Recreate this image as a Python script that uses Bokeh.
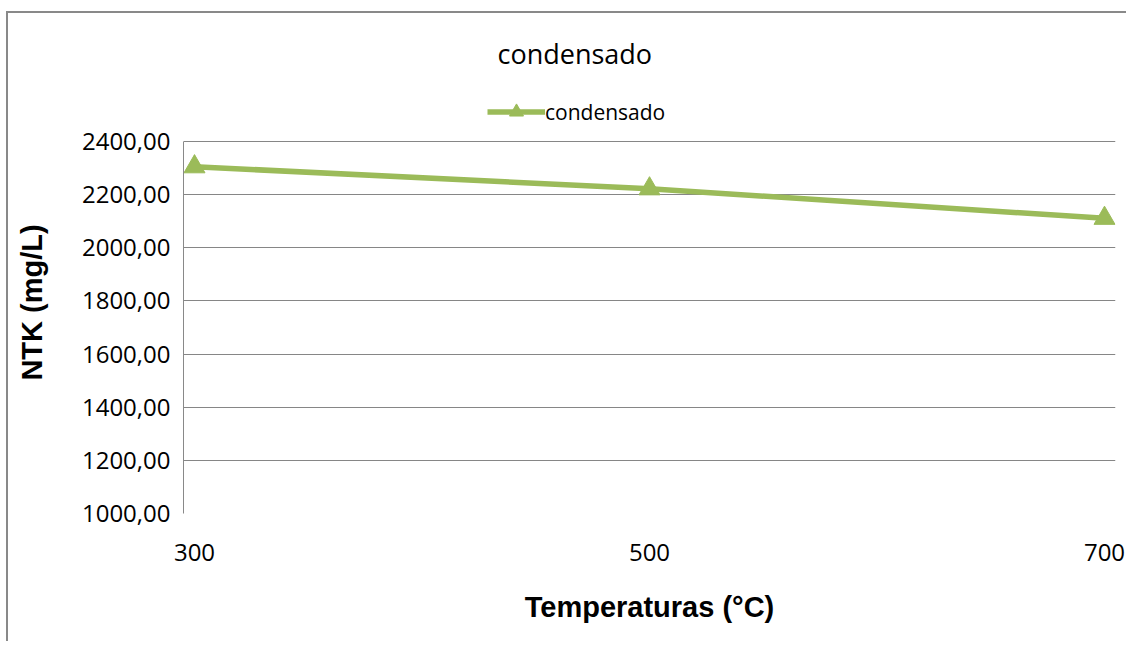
from bokeh.plotting import figure
from bokeh.models import (Legend, LegendItem, CustomJSTickFormatter, FixedTicker,
                          Range1d)
from bokeh.embed import file_html
from bokeh.resources import INLINE

# ---- data ----
temperatures = [300, 500, 700]
ntk_condensado = [2305, 2222, 2111]
x_ticks = [300, 500, 700]
y_ticks = [1000, 1200, 1400, 1600, 1800, 2000, 2200, 2400]
series_name = "condensado"
chart_title = "condensado"
x_label = "Temperaturas (°C)"
y_label = "NTK (mg/L)"

GREEN = "#9BBB59"
GRAY = "#898989"

# ---- layout (pixels) ----
FRAME_W = 932          # frame width
FRAME_H = 422          # frame height (includes room above 2400 for legend)
PAD_PX = 11            # so end markers are not clipped
DATA_W = FRAME_W - 2 * PAD_PX
DATA_H = 372           # pixels for 1000..2400
x_min, x_max = min(x_ticks), max(x_ticks)
y_min, y_max = min(y_ticks), max(y_ticks)
x_pad = PAD_PX * (x_max - x_min) / DATA_W
y_top = y_min + (y_max - y_min) * FRAME_H / DATA_H

p = figure(width=1120, height=630, output_backend="svg", toolbar_location=None,
           x_range=Range1d(x_min - x_pad, x_max + x_pad),
           y_range=Range1d(y_min, y_top),
           min_border_left=175, min_border_right=13,
           min_border_top=78, min_border_bottom=130,
           styles={"border-left": f"2px solid {GRAY}",
                   "border-top": f"2px solid {GRAY}",
                   "margin-top": "11px", "margin-left": "6px"})

p.title.text = chart_title
p.title.align = "left"
p.title.offset = 314
p.title.text_font = "Open Sans"
p.title.text_font_size = "27px"
p.title.text_font_style = "normal"
p.title.text_color = "black"
p.title.standoff = 39

line_r = p.line(temperatures, ntk_condensado, line_width=5.5, color=GREEN)
pts_r = p.scatter(temperatures, ntk_condensado, marker="triangle", size=21,
                  color=GREEN)

legend = Legend(items=[LegendItem(label=series_name, renderers=[line_r, pts_r])],
                orientation="horizontal", location=(304, 384),
                glyph_width=58, glyph_height=35, label_standoff=0,
                label_text_font="Open Sans", label_text_font_size="21px",
                label_text_color="black",
                border_line_color=None, background_fill_alpha=0,
                padding=0, margin=0)
p.add_layout(legend)

# axes
p.xaxis.ticker = FixedTicker(ticks=x_ticks)
p.yaxis.ticker = FixedTicker(ticks=y_ticks)
p.yaxis.formatter = CustomJSTickFormatter(code="return tick.toFixed(2).replace('.', ',');")
p.yaxis.bounds = (y_min, y_max)

for ax in (p.xaxis[0], p.yaxis[0]):
    ax.major_tick_line_color = None
    ax.minor_tick_line_color = None
    ax.major_label_text_font = "Open Sans"
    ax.major_label_text_font_size = "24px"
    ax.major_label_text_color = "black"
    ax.axis_label_text_font = "Liberation Sans"
    ax.axis_label_text_font_style = "bold"
    ax.axis_label_text_color = "black"

p.xaxis.axis_line_color = None
p.yaxis.axis_line_color = GRAY
p.xaxis.axis_label = x_label
p.yaxis.axis_label = y_label
p.xaxis.axis_label_text_font_size = "29px"
p.yaxis.axis_label_text_font_size = "29px"
p.xaxis.major_label_standoff = 24
p.xaxis.axis_label_standoff = 27
p.yaxis.major_label_standoff = 7
p.yaxis.axis_label_standoff = 31

p.xgrid.grid_line_color = None
p.ygrid.grid_line_color = "#868686"
p.ygrid.grid_line_width = 1
p.outline_line_color = None

open("out.html", "w").write(file_html(p, INLINE))
